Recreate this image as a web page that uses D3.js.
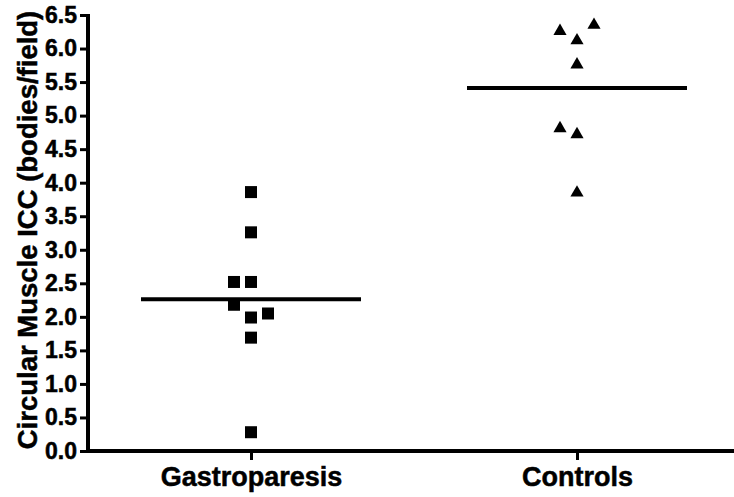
<!DOCTYPE html>
<html>
<head>
<meta charset="utf-8">
<script src="https://cdn.jsdelivr.net/npm/d3@7"></script>
<style>
  body { margin: 0; background: #fff; }
  svg text { font-family: "Liberation Sans", Arial, sans-serif; font-weight: bold; fill: #000; stroke: #000; stroke-width: 0.5px; }
</style>
</head>
<body>
<div id="chart"></div>
<script>
// groups on the x axis
var groups = ["Gastroparesis", "Controls"];

// individual values (bodies/field)
var gastroValues = [3.86, 3.26, 2.52, 2.52, 2.18, 2.05, 1.99, 1.69, 0.28];
var controlValues = [6.35, 6.26, 6.12, 5.76, 4.81, 4.72, 3.85];

// which lane each point sits in when values collide (-1 left, 0 middle, 1 right)
var gastroLanes = [0, 0, -1, 0, -1, 1, 0, 0, 0];
var controlLanes = [1, -1, 0, 0, -1, 0, 0];

var yTicks = d3.range(0, 6.51, 0.5);

var width = 734, height = 497;
var margin = {top: 15, right: 0, bottom: 46, left: 88};

var svg = d3.select("#chart").append("svg")
    .attr("width", width)
    .attr("height", height);

var x = d3.scalePoint()
    .domain(groups)
    .range([margin.left, width + 6])
    .padding(0.5);

var y = d3.scaleLinear()
    .domain([0, 6.5])
    .range([height - margin.bottom, margin.top]);

var laneWidth = 17;

var series = [
    {name: groups[0], values: gastroValues, lanes: gastroLanes, shape: d3.symbolSquare, size: 144},
    {name: groups[1], values: controlValues, lanes: controlLanes, shape: d3.symbolTriangle, size: 75}
];

// mean lines
svg.selectAll(".mean")
    .data(series)
    .enter().append("line")
    .attr("class", "mean")
    .attr("x1", function(d){ return x(d.name) - 110; })
    .attr("x2", function(d){ return x(d.name) + 110; })
    .attr("y1", function(d){ return y(d3.mean(d.values)); })
    .attr("y2", function(d){ return y(d3.mean(d.values)); })
    .attr("stroke", "#000")
    .attr("stroke-width", 4);

// points
series.forEach(function(s){
    svg.selectAll(null)
        .data(s.values)
        .enter().append("path")
        .attr("d", d3.symbol().type(s.shape).size(s.size))
        .attr("transform", function(d, i){
            return "translate(" + (x(s.name) + s.lanes[i] * laneWidth) + "," + y(d) + ")";
        })
        .attr("fill", "#000");
});

// y axis
var yAxis = svg.append("g")
    .attr("transform", "translate(" + margin.left + ",0)")
    .call(d3.axisLeft(y).tickValues(yTicks).tickFormat(d3.format(".1f")).tickSize(8).tickPadding(3));

// x axis
var xAxis = svg.append("g")
    .attr("transform", "translate(0," + (height - margin.bottom) + ")")
    .call(d3.axisBottom(x).tickSize(9).tickPadding(7));

[yAxis, xAxis].forEach(function(g){
    g.attr("font-family", null);
    g.select(".domain").attr("stroke", "#000").attr("stroke-width", 4);
    g.selectAll(".tick line").attr("stroke", "#000").attr("stroke-width", 3);
});
yAxis.select(".domain").attr("d", "M0," + (y(0) + 2) + "V" + (margin.top - 1));
xAxis.select(".domain").attr("d", "M" + (margin.left - 2) + ",0H" + width);

yAxis.attr("font-size", 23);
yAxis.selectAll(".tick text").attr("font-size", 23).style("font-size", "23px");
xAxis.selectAll(".tick text").style("font-size", "27px");

// y axis title
svg.append("text")
    .attr("transform", "translate(37," + 230 + ") rotate(-90)")
    .attr("text-anchor", "middle")
    .style("font-size", "27.5px")
    .text("Circular Muscle ICC (bodies/field)");
</script>
</body>
</html>
